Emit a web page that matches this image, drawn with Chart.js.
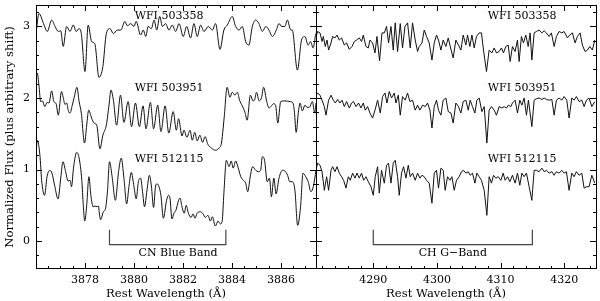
<!DOCTYPE html>
<html>
<head>
<meta charset="utf-8">
<title>Bandas CN y CH</title>
<script src="https://cdn.jsdelivr.net/npm/chart.js@4.4.1/dist/chart.umd.min.js"></script>
<style>
  body { margin: 0; background: #fff; }
  #lienzo { position: relative; width: 600px; height: 301px; }
  #panelCN { position: absolute; left: 0; top: 0; }
  #panelCH { position: absolute; left: 300px; top: 0; }
</style>
</head>
<body>
<div id="lienzo">
  <canvas id="panelCN" width="320" height="301"></canvas>
  <canvas id="panelCH" width="300" height="301"></canvas>
</div>
<script>
// Nombres de las estrellas (de arriba hacia abajo)
const estrellas = ['WFI 503358', 'WFI 503951', 'WFI 512115'];

// Rangos de los ejes
const rangoCN = [3876, 3887.43];
const rangoCH = [4281, 4325];
const rangoFlujo = [-0.39, 3.3];

// Etiquetas de los ejes
const ticksCN = [3878, 3880, 3882, 3884, 3886];
const ticksCH = [4290, 4300, 4310, 4320];
const ticksFlujo = [0, 1, 2, 3];

// Limites de las bandas
const bandaCN = [3879.0, 3883.75];
const bandaCH = [4290, 4315];

// Espectros region CN: [longitud de onda, flujo]
const cn503358 = [[3876.00,2.90],[3876.12,3.18],[3876.33,3.02],[3876.46,2.93],[3876.64,3.09],[3876.78,3.00],[3876.91,2.93],[3877.01,2.94],[3877.11,2.72],[3877.25,3.00],[3877.39,2.93],[3877.52,3.02],[3877.64,2.93],[3877.76,2.97],[3877.85,2.90],[3878.00,2.37],[3878.13,3.02],[3878.27,2.79],[3878.40,2.76],[3878.57,2.29],[3878.73,2.44],[3878.87,2.90],[3879.02,2.97],[3879.16,2.90],[3879.32,2.95],[3879.46,2.95],[3879.63,3.07],[3879.73,3.01],[3879.87,3.04],[3880.00,3.00],[3880.09,3.07],[3880.27,2.88],[3880.38,2.95],[3880.48,2.86],[3880.58,3.00],[3880.71,2.97],[3880.82,3.09],[3880.93,2.95],[3881.05,3.14],[3881.16,3.00],[3881.29,3.04],[3881.43,2.95],[3881.56,3.02],[3881.70,2.93],[3881.84,3.04],[3882.01,2.86],[3882.15,3.00],[3882.31,2.84],[3882.45,3.04],[3882.58,2.86],[3882.72,3.02],[3882.86,2.93],[3883.03,3.00],[3883.20,2.95],[3883.33,3.04],[3883.51,2.68],[3883.67,2.95],[3883.81,3.02],[3884.01,3.14],[3884.15,3.00],[3884.29,2.95],[3884.42,3.00],[3884.56,2.79],[3884.69,2.74],[3884.83,3.00],[3884.97,3.09],[3885.10,3.04],[3885.24,2.93],[3885.38,3.00],[3885.51,2.95],[3885.65,2.86],[3885.81,2.95],[3885.92,3.04],[3886.03,3.00],[3886.16,3.00],[3886.26,3.09],[3886.40,2.95],[3886.46,2.95],[3886.67,2.39],[3886.84,2.81],[3886.98,2.86],[3887.11,2.74],[3887.21,2.79],[3887.31,2.70],[3887.42,2.90]];

const cn503951 = [[3876.00,2.23],[3876.05,2.35],[3876.12,2.18],[3876.19,1.95],[3876.26,1.96],[3876.36,1.88],[3876.46,1.94],[3876.53,1.93],[3876.64,2.10],[3876.73,1.95],[3876.82,1.92],[3876.91,1.76],[3877.04,2.09],[3877.11,2.01],[3877.18,1.91],[3877.25,1.93],[3877.33,1.81],[3877.39,1.79],[3877.48,1.90],[3877.56,2.01],[3877.67,2.15],[3877.76,1.95],[3877.85,1.79],[3877.98,1.37],[3878.07,1.62],[3878.15,1.83],[3878.27,1.72],[3878.37,1.65],[3878.48,1.62],[3878.61,1.29],[3878.73,1.48],[3878.87,1.62],[3878.98,1.90],[3879.06,2.11],[3879.16,1.97],[3879.29,1.62],[3879.45,2.04],[3879.59,1.66],[3879.76,1.95],[3879.90,1.60],[3880.06,1.93],[3880.22,1.60],[3880.37,1.89],[3880.49,1.57],[3880.67,1.94],[3880.80,1.57],[3880.97,1.90],[3881.10,1.53],[3881.27,1.89],[3881.42,1.51],[3881.60,1.81],[3881.73,1.55],[3881.82,1.71],[3881.96,1.47],[3882.04,1.55],[3882.16,1.45],[3882.29,1.55],[3882.38,1.41],[3882.48,1.52],[3882.58,1.40],[3882.69,1.48],[3882.80,1.38],[3882.90,1.46],[3883.02,1.35],[3883.16,1.30],[3883.33,1.27],[3883.47,1.30],[3883.57,1.37],[3883.64,1.58],[3883.69,1.76],[3883.80,2.15],[3883.92,2.01],[3884.01,2.08],[3884.12,2.04],[3884.22,2.08],[3884.31,1.97],[3884.42,1.89],[3884.53,1.80],[3884.62,1.69],[3884.75,2.04],[3884.86,1.96],[3884.92,1.97],[3885.00,2.08],[3885.11,1.96],[3885.21,2.01],[3885.29,2.15],[3885.42,1.95],[3885.51,1.86],[3885.61,1.89],[3885.69,1.92],[3885.78,1.90],[3885.87,1.65],[3885.99,1.95],[3886.16,1.96],[3886.37,1.95],[3886.49,1.93],[3886.55,1.80],[3886.62,1.52],[3886.71,1.80],[3886.78,1.93],[3886.87,1.82],[3886.98,1.90],[3887.06,1.87],[3887.16,1.87],[3887.28,1.95],[3887.38,1.79],[3887.43,1.93]];

const cn512115 = [[3876.00,1.20],[3876.05,1.41],[3876.16,1.20],[3876.23,0.85],[3876.35,0.64],[3876.45,0.90],[3876.57,0.99],[3876.65,0.95],[3876.76,0.78],[3876.90,0.59],[3877.01,0.88],[3877.10,1.11],[3877.21,0.97],[3877.31,0.84],[3877.39,0.85],[3877.45,0.76],[3877.53,1.02],[3877.66,1.24],[3877.76,1.16],[3877.87,0.85],[3877.93,0.50],[3877.99,0.28],[3878.07,0.50],[3878.16,0.90],[3878.24,0.64],[3878.33,0.48],[3878.41,0.49],[3878.49,0.48],[3878.55,0.49],[3878.59,0.38],[3878.64,0.30],[3878.75,0.41],[3878.84,0.46],[3878.92,0.71],[3879.00,1.11],[3879.10,0.92],[3879.24,0.57],[3879.37,0.97],[3879.48,1.16],[3879.59,0.88],[3879.70,0.52],[3879.80,0.78],[3879.89,0.96],[3880.00,0.76],[3880.09,0.59],[3880.18,0.83],[3880.27,0.88],[3880.35,0.69],[3880.43,0.48],[3880.53,0.71],[3880.63,0.92],[3880.71,0.77],[3880.80,0.47],[3880.88,0.77],[3880.94,0.80],[3881.02,0.76],[3881.10,0.64],[3881.20,0.32],[3881.33,0.57],[3881.41,0.64],[3881.47,0.60],[3881.55,0.31],[3881.63,0.39],[3881.71,0.43],[3881.82,0.57],[3881.88,0.60],[3881.96,0.48],[3882.05,0.39],[3882.13,0.50],[3882.22,0.39],[3882.33,0.33],[3882.41,0.38],[3882.49,0.32],[3882.58,0.39],[3882.71,0.41],[3882.82,0.38],[3882.91,0.33],[3883.02,0.36],[3883.12,0.28],[3883.20,0.34],[3883.32,0.21],[3883.43,0.28],[3883.53,0.24],[3883.60,0.28],[3883.67,0.67],[3883.77,1.13],[3883.88,1.04],[3883.97,1.12],[3884.05,1.02],[3884.15,1.12],[3884.24,1.04],[3884.36,0.90],[3884.46,0.85],[3884.56,0.81],[3884.64,0.69],[3884.75,0.91],[3884.84,1.04],[3884.97,0.99],[3885.07,0.97],[3885.17,0.99],[3885.24,1.18],[3885.33,1.13],[3885.44,0.83],[3885.53,0.88],[3885.61,0.62],[3885.71,0.88],[3885.80,0.66],[3885.92,0.88],[3886.06,0.99],[3886.16,0.98],[3886.27,0.92],[3886.36,0.83],[3886.46,0.83],[3886.57,0.71],[3886.68,0.22],[3886.80,0.48],[3886.90,0.95],[3887.01,0.90],[3887.12,0.82],[3887.22,0.69],[3887.32,0.76],[3887.43,0.99]];

// Espectros region CH (banda G)
const ch503358 = [[4280.89,2.81],[4281.25,2.93],[4281.63,2.91],[4281.95,2.79],[4282.15,2.86],[4282.46,2.72],[4282.73,2.81],[4282.98,2.67],[4283.36,2.77],[4283.61,2.86],[4283.99,2.84],[4284.30,2.88],[4284.66,2.81],[4285.02,2.84],[4285.45,2.74],[4285.81,2.77],[4286.23,2.68],[4286.66,2.72],[4287.02,2.79],[4287.38,2.81],[4287.80,2.84],[4288.16,2.79],[4288.43,2.88],[4288.85,2.72],[4289.22,2.70],[4289.48,2.81],[4289.89,2.77],[4290.27,2.63],[4290.58,2.86],[4290.99,2.52],[4291.37,2.91],[4291.73,2.91],[4292.09,3.00],[4292.40,2.77],[4292.78,3.00],[4293.14,2.67],[4293.45,3.05],[4293.82,2.65],[4294.24,3.04],[4294.60,2.70],[4294.98,3.00],[4295.39,3.05],[4295.81,2.70],[4296.17,3.05],[4296.59,2.81],[4296.96,2.65],[4297.22,2.72],[4297.65,2.77],[4298.01,2.95],[4298.37,2.86],[4298.79,2.77],[4299.22,2.53],[4299.58,2.77],[4299.94,2.88],[4300.25,2.81],[4300.63,2.67],[4300.99,2.81],[4301.41,2.72],[4301.78,2.84],[4302.04,2.74],[4302.56,2.56],[4302.98,2.81],[4303.39,2.74],[4303.77,2.67],[4304.13,2.88],[4304.55,2.74],[4304.81,2.88],[4305.18,2.72],[4305.50,2.88],[4305.86,2.70],[4306.22,2.86],[4306.64,2.91],[4307.00,2.91],[4307.32,2.67],[4307.79,2.37],[4308.21,2.67],[4308.64,2.63],[4309.00,2.70],[4309.36,2.63],[4309.78,2.65],[4310.14,2.70],[4310.46,2.63],[4310.83,2.72],[4311.20,2.74],[4311.51,2.51],[4311.87,2.72],[4312.29,2.65],[4312.66,2.81],[4312.92,2.51],[4313.28,2.86],[4313.60,2.77],[4313.97,2.88],[4314.34,2.72],[4314.65,2.91],[4314.92,2.53],[4315.28,2.91],[4315.64,2.93],[4316.06,2.95],[4316.49,2.91],[4316.85,2.94],[4317.21,2.91],[4317.63,2.86],[4317.99,2.91],[4318.42,2.72],[4318.78,2.86],[4319.20,2.93],[4319.63,2.91],[4319.99,2.93],[4320.51,2.84],[4320.88,2.88],[4321.29,2.91],[4321.71,2.77],[4322.08,2.86],[4322.50,2.91],[4322.86,2.74],[4323.28,2.65],[4323.65,2.67],[4324.02,2.72],[4324.43,2.67],[4324.81,2.81]];

const ch503951 = [[4280.89,2.02],[4281.25,2.07],[4281.63,2.04],[4281.95,1.97],[4282.31,1.88],[4282.57,1.76],[4282.98,1.97],[4283.36,2.04],[4283.72,1.97],[4284.03,1.93],[4284.40,1.98],[4284.77,1.93],[4285.09,1.97],[4285.45,1.88],[4285.81,1.95],[4286.23,1.86],[4286.59,1.93],[4286.91,1.95],[4287.28,1.88],[4287.69,1.93],[4288.07,1.86],[4288.43,1.93],[4288.74,1.83],[4289.11,1.88],[4289.48,1.79],[4289.89,1.72],[4290.27,1.83],[4290.68,1.97],[4291.10,1.79],[4291.46,2.02],[4291.84,2.07],[4292.15,1.93],[4292.51,2.09],[4292.87,2.00],[4293.30,2.07],[4293.56,1.93],[4293.93,2.04],[4294.24,1.76],[4294.60,2.02],[4295.02,1.97],[4295.39,2.07],[4295.76,1.95],[4296.17,1.97],[4296.59,1.83],[4296.96,1.90],[4297.33,1.83],[4297.74,1.90],[4298.16,1.88],[4298.53,1.93],[4298.90,1.83],[4299.22,1.58],[4299.58,1.88],[4299.94,1.97],[4300.25,1.83],[4300.63,1.76],[4300.99,1.97],[4301.41,2.00],[4301.78,1.81],[4302.20,1.79],[4302.56,1.65],[4302.98,1.93],[4303.39,1.88],[4303.77,1.79],[4304.13,1.95],[4304.55,1.97],[4304.92,1.83],[4305.23,1.97],[4305.59,1.88],[4305.97,1.79],[4306.28,1.97],[4306.64,2.00],[4307.07,1.81],[4307.43,1.88],[4307.85,1.37],[4308.21,1.83],[4308.57,1.88],[4309.00,1.83],[4309.36,1.76],[4309.78,1.88],[4310.21,1.86],[4310.57,1.88],[4310.93,1.86],[4311.24,1.90],[4311.62,1.88],[4311.87,1.93],[4312.29,1.97],[4312.66,1.79],[4313.03,1.97],[4313.35,1.90],[4313.71,2.00],[4314.07,1.76],[4314.38,1.97],[4314.92,1.60],[4315.28,1.97],[4315.64,1.99],[4316.06,2.00],[4316.49,1.98],[4316.85,2.00],[4317.21,1.98],[4317.63,1.97],[4318.06,1.98],[4318.42,1.76],[4318.78,1.97],[4319.20,2.00],[4319.63,1.97],[4319.99,2.02],[4320.41,1.97],[4320.77,1.72],[4321.20,2.00],[4321.56,1.97],[4321.92,2.02],[4322.34,1.95],[4322.77,1.97],[4323.13,1.88],[4323.49,1.97],[4323.91,2.00],[4324.34,1.88],[4324.81,1.95]];

const ch512115 = [[4280.89,0.95],[4281.25,1.09],[4281.63,1.06],[4281.95,0.97],[4282.31,0.71],[4282.67,0.90],[4282.98,0.71],[4283.36,0.99],[4283.61,1.04],[4283.99,0.97],[4284.30,1.04],[4284.66,0.95],[4285.02,0.90],[4285.34,0.85],[4285.71,0.74],[4286.08,0.90],[4286.39,0.85],[4286.75,0.95],[4287.13,0.88],[4287.44,0.95],[4287.80,0.88],[4288.16,0.95],[4288.48,0.85],[4288.85,0.90],[4289.22,0.83],[4289.64,0.76],[4290.00,0.64],[4290.31,0.90],[4290.68,1.04],[4290.94,0.67],[4291.30,0.99],[4291.73,0.81],[4292.09,1.06],[4292.40,1.09],[4292.78,0.81],[4293.14,1.09],[4293.45,1.13],[4293.82,0.90],[4294.08,0.64],[4294.44,0.95],[4294.76,1.04],[4295.13,0.88],[4295.50,1.06],[4295.81,0.90],[4296.17,0.95],[4296.59,0.85],[4296.96,0.95],[4297.33,0.88],[4297.65,0.92],[4298.01,0.90],[4298.37,0.85],[4298.79,0.81],[4299.22,0.53],[4299.58,0.95],[4299.94,0.99],[4300.25,0.74],[4300.63,1.02],[4300.99,0.99],[4301.30,0.71],[4301.67,0.90],[4302.04,0.85],[4302.36,0.90],[4302.72,0.71],[4303.08,0.85],[4303.50,0.90],[4303.86,0.97],[4304.18,0.99],[4304.55,0.95],[4304.92,0.97],[4305.23,0.92],[4305.59,0.95],[4305.97,0.81],[4306.28,0.95],[4306.64,0.90],[4307.00,0.85],[4307.43,0.71],[4307.85,0.36],[4308.21,0.90],[4308.57,0.81],[4308.89,0.92],[4309.26,0.88],[4309.63,0.90],[4310.05,0.85],[4310.41,0.95],[4310.72,0.85],[4311.09,0.90],[4311.46,0.83],[4311.87,0.92],[4312.29,0.81],[4312.66,0.95],[4313.03,0.78],[4313.35,0.95],[4313.71,0.90],[4314.07,0.95],[4314.49,0.76],[4314.92,0.57],[4315.28,0.99],[4315.64,0.99],[4316.06,0.97],[4316.49,1.02],[4316.85,0.97],[4317.21,0.99],[4317.63,0.95],[4318.06,0.97],[4318.42,0.92],[4318.78,0.97],[4319.20,0.95],[4319.63,0.99],[4319.99,0.95],[4320.35,0.97],[4320.77,0.71],[4321.20,0.95],[4321.56,0.90],[4321.92,0.97],[4322.34,0.92],[4322.77,0.95],[4323.13,0.74],[4323.49,0.76],[4323.91,0.76],[4324.34,0.92],[4324.81,0.81]];

const FUENTE = "'DejaVu Serif', serif";
Chart.defaults.font.family = FUENTE;
Chart.defaults.font.size = 11;
Chart.defaults.color = '#000';

// Recorre los valores multiplos de "paso" dentro del rango
function recorrer(min, max, paso, fn) {
    for (let i = Math.ceil(min / paso - 1e-9); i * paso <= max + 1e-9; i++) fn(i * paso);
}

function esMultiplo(v, paso) {
    return Math.abs(v / paso - Math.round(v / paso)) < 1e-6;
}

// Marco estilo PGPLOT: caja, marcas hacia adentro y textos
function crearMarco(cfg) {
    return {
        id: 'marco',
        afterDatasetsDraw(chart) {
            const { ctx, chartArea: a, scales: { x, y } } = chart;
            ctx.save();
            ctx.strokeStyle = '#000';
            ctx.lineWidth = 1;
            ctx.beginPath();
            recorrer(x.min, x.max, cfg.xMenor, v => {
                const largo = esMultiplo(v, cfg.xMayor) ? 6 : 3;
                const px = Math.round(x.getPixelForValue(v)) + 0.5;
                ctx.moveTo(px, a.bottom); ctx.lineTo(px, a.bottom - largo);
                ctx.moveTo(px, a.top); ctx.lineTo(px, a.top + largo);
            });
            recorrer(y.min, y.max, 0.2, v => {
                const largo = esMultiplo(v, 1) ? 6 : 3;
                const py = Math.round(y.getPixelForValue(v)) + 0.5;
                ctx.moveTo(a.left, py); ctx.lineTo(a.left + largo, py);
                ctx.moveTo(a.right, py); ctx.lineTo(a.right - largo, py);
            });
            ctx.stroke();
            ctx.strokeRect(Math.round(a.left) + 0.5, Math.round(a.top) + 0.5,
                Math.round(a.right - a.left), Math.round(a.bottom - a.top) - 1);

            ctx.fillStyle = '#000';
            ctx.font = '11px ' + FUENTE;
            ctx.textAlign = 'center';
            ctx.textBaseline = 'middle';
            cfg.textos.forEach(t => ctx.fillText(t.texto, x.getPixelForValue(t.x), y.getPixelForValue(t.y)));
            ctx.font = '11.6px ' + FUENTE;
            ctx.fillText('Rest Wavelength (Å)', (a.left + a.right) / 2 - 10, a.bottom + 25);
            if (cfg.tituloY) {
                ctx.translate(10, (a.top + a.bottom) / 2);
                ctx.rotate(-Math.PI / 2);
                ctx.fillText(cfg.tituloY, 0, 0);
            }
            ctx.restore();
        }
    };
}

function datosEspectro(pares, suave) {
    return {
        data: pares.map(([x, y]) => ({ x, y })),
        borderColor: '#111',
        borderWidth: 1,
        pointRadius: 0,
        fill: false,
        cubicInterpolationMode: suave ? 'monotone' : 'default',
        tension: 0
    };
}

// Corchete que marca la banda
function datosBanda(banda) {
    const [a, b] = banda;
    return {
        data: [{ x: a, y: 0.16 }, { x: a, y: -0.05 }, { x: b, y: -0.05 }, { x: b, y: 0.16 }],
        borderColor: '#444',
        borderWidth: 1.2,
        pointRadius: 0,
        tension: 0
    };
}

function crearPanel(id, espectros, rango, ticks, banda, suave, marco, padding, conEjeY) {
    return new Chart(document.getElementById(id), {
        type: 'line',
        data: { datasets: [...espectros.map(e => datosEspectro(e, suave)), datosBanda(banda)] },
        options: {
            responsive: false,
            animation: false,
            layout: { padding },
            plugins: { legend: { display: false }, tooltip: { enabled: false } },
            scales: {
                x: {
                    type: 'linear',
                    min: rango[0],
                    max: rango[1],
                    grid: { display: false, drawTicks: false },
                    border: { display: false },
                    afterBuildTicks: s => { s.ticks = ticks.map(v => ({ value: v })); },
                    afterFit: s => { s.height = 32; s.paddingLeft = 0; s.paddingRight = 0; },
                    ticks: { autoSkip: false, maxRotation: 0, padding: 5, callback: v => String(v) }
                },
                y: {
                    display: conEjeY,
                    min: rangoFlujo[0],
                    max: rangoFlujo[1],
                    grid: { display: false, drawTicks: false },
                    border: { display: false },
                    afterBuildTicks: s => { s.ticks = ticksFlujo.map(v => ({ value: v })); },
                    afterFit: s => { s.width = conEjeY ? 36 : 0; s.paddingTop = 0; s.paddingBottom = 0; },
                    ticks: { autoSkip: false, padding: 6, callback: v => String(v) }
                }
            }
        },
        plugins: [crearMarco(marco)]
    });
}

const nivelesEtiqueta = [3.15, 2.14, 1.15];

crearPanel('panelCN', [cn503358, cn503951, cn512115], rangoCN, ticksCN, bandaCN, true, {
    xMenor: 0.5, xMayor: 2,
    tituloY: 'Normalized Flux (plus arbitrary shift)',
    textos: [
        ...estrellas.map((e, i) => ({ texto: e, x: 3881.43, y: nivelesEtiqueta[i] })),
        { texto: 'CN Blue Band', x: 3881.8, y: -0.17 }
    ]
}, { top: 5, right: 4, left: 0, bottom: 0 }, true);

crearPanel('panelCH', [ch503358, ch503951, ch512115], rangoCH, ticksCH, bandaCH, false, {
    xMenor: 2, xMayor: 10,
    textos: [
        ...estrellas.map((e, i) => ({ texto: e, x: 4313.4, y: nivelesEtiqueta[i] })),
        { texto: 'CH G\u2212Band', x: 4302.5, y: -0.17 }
    ]
}, { top: 5, right: 4, left: 16, bottom: 0 }, false);
</script>
</body>
</html>
